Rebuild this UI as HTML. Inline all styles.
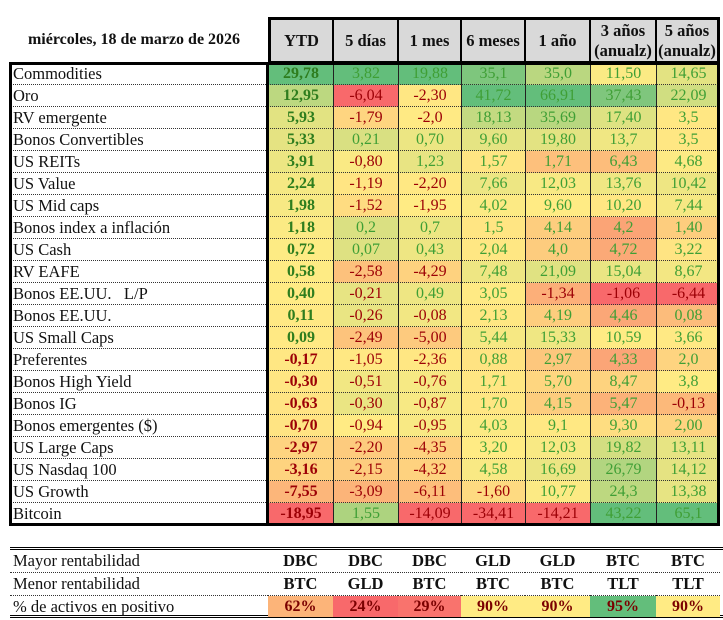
<!DOCTYPE html>
<html><head><meta charset="utf-8">
<style>
body{margin:0;width:723px;height:620px;background:#fff;position:relative;overflow:hidden;font-family:"Liberation Serif",serif;}
.c{position:absolute;box-sizing:border-box;display:flex;align-items:center;justify-content:center;font-size:16px;white-space:nowrap;}
.lbl{justify-content:flex-start;padding-left:3px;font-size:16.5px;color:#111;}
.hd{background:#d9d9d9;font-weight:bold;color:#111;text-align:center;line-height:20px;font-size:16.5px;}
</style></head>
<body>
<div class="c hd" style="left:0;top:17px;width:268px;height:46px;background:none;font-size:16px;">miércoles, 18 de marzo de 2026</div>
<div id="main"></div>
<div id="bottom"></div>
<script>
const headers=["YTD","5 días","1 mes","6 meses","1 año","3 años<br>(anualz)","5 años<br>(anualz)"];
const assets=["Commodities","Oro","RV emergente","Bonos Convertibles","US REITs","US Value","US Mid caps","Bonos index a inflación","US Cash","RV EAFE","Bonos EE.UU.&nbsp;&nbsp; L/P","Bonos EE.UU.","US Small Caps","Preferentes","Bonos High Yield","Bonos IG","Bonos emergentes ($)","US Large Caps","US Nasdaq 100","US Growth","Bitcoin"];
const ytd=["29,78","12,95","5,93","5,33","3,91","2,24","1,98","1,18","0,72","0,58","0,40","0,11","0,09","-0,17","-0,30","-0,63","-0,70","-2,97","-3,16","-7,55","-18,95"];
const d5=["3,82","-6,04","-1,79","0,21","-0,80","-1,19","-1,52","0,2","0,07","-2,58","-0,21","-0,26","-2,49","-1,05","-0,51","-0,30","-0,94","-2,20","-2,15","-3,09","1,55"];
const m1=["19,88","-2,30","-2,0","0,70","1,23","-2,20","-1,95","0,7","0,43","-4,29","0,49","-0,08","-5,00","-2,36","-0,76","-0,87","-0,95","-4,35","-4,32","-6,11","-14,09"];
const m6=["35,1","41,72","18,13","9,60","1,57","7,66","4,02","1,5","2,04","7,48","3,05","2,13","5,44","0,88","1,71","1,70","4,03","3,20","4,58","-1,60","-34,41"];
const y1=["35,0","66,91","35,69","19,80","1,71","12,03","9,60","4,14","4,0","21,09","-1,34","4,19","15,33","2,97","5,70","4,15","9,1","12,03","16,69","10,77","-14,21"];
const y3=["11,50","37,43","17,40","13,7","6,43","13,76","10,20","4,2","4,72","15,04","-1,06","4,46","10,59","4,33","8,47","5,47","9,30","19,82","26,79","24,3","43,22"];
const y5=["14,65","22,09","3,5","3,5","4,68","10,42","7,44","1,40","3,22","8,67","-6,44","0,08","3,66","2,0","3,8","-0,13","2,00","13,11","14,12","13,38","65,1"];
const cols=[ytd,d5,m1,m6,y1,y3,y5];
const sumLabels=["Mayor rentabilidad","Menor rentabilidad","% de activos en positivo"];
const best=["DBC","DBC","DBC","GLD","GLD","BTC","BTC"];
const worst=["BTC","GLD","BTC","BTC","BTC","TLT","TLT"];
const pos=[62,24,29,90,90,95,90];

const colX=[268,333,398,461,525,590,656,720];
const top0=63,rh=22;
const R=[248,105,107],Y=[255,235,132],G=[99,190,123];
function mix(a,b,t){return 'rgb('+a.map((v,i)=>Math.round(v+(b[i]-v)*t)).join(',')+')';}
function scale(vals){const s=[...vals].sort((a,b)=>a-b);const mn=s[0],mx=s[s.length-1];const md=s.length%2?s[(s.length-1)/2]:(s[s.length/2-1]+s[s.length/2])/2;
 return v=>v<=md?mix(R,Y,md===mn?1:(v-mn)/(md-mn)):mix(Y,G,mx===md?0:(v-md)/(mx-md));}
const num=s=>parseFloat(s.replace(',','.'));
const main=document.getElementById('main');
function cell(parent,x,y,w,h,html,cls,st){const d=document.createElement('div');d.className='c '+(cls||'');d.style.cssText=`left:${x}px;top:${y}px;width:${w}px;height:${h}px;`+(st||'');d.innerHTML=html;parent.appendChild(d);return d;}
headers.forEach((h,i)=>{const d=cell(main,colX[i],17,colX[i+1]-colX[i],46,h,'hd','border:2px solid #000;border-left-width:'+(i?1:3)+'px;border-right-width:'+(i==6?3:1)+'px;border-top-width:3px;');

});
assets.forEach((a,r)=>{const y=top0+r*rh;
 const d=cell(main,10,y,258,rh,a,'lbl','border-bottom:1px dotted #333;');
 
 });
cols.forEach((col,ci)=>{const sc=scale(col.map(num));
 col.forEach((v,r)=>{const n=num(v);const y=top0+r*rh;
  const bold=ci===0;
  const color=n<0?'#9c0006':(bold?'#2e7d1e':'#3f9f35');
  const d=cell(main,colX[ci],y,colX[ci+1]-colX[ci],rh,v,'',`background:${sc(n)};color:${color};${bold?'font-weight:bold;':''}border-bottom:1px dotted #333;border-left:1px solid #222;`);
  
  });});
const ob=document.createElement('div');ob.style.cssText=`position:absolute;left:9px;top:62px;width:${720-9}px;height:${rh*21+2}px;border:3px solid #000;box-sizing:border-box;pointer-events:none;`;


main.appendChild(ob);
const sep=document.createElement('div');sep.style.cssText=`position:absolute;left:266px;top:62px;width:3px;height:${rh*21+2}px;background:#000;`;


main.appendChild(sep);
const bt=document.getElementById('bottom');
const bl=document.createElement('div');bl.style.cssText='position:absolute;left:10px;top:547px;width:713px;height:71px;border-top:3px double #000;border-bottom:3px double #000;box-sizing:border-box;';


bt.appendChild(bl);
const bY=[550,573,596],bH=[23,23,21];
const psc=scale(pos);
sumLabels.forEach((l,r)=>{const d=cell(bt,10,bY[r],258,bH[r],l,'lbl',r<2?'border-bottom:1px dotted #333;':'');
 
 });
[best,worst].forEach((arr,r)=>arr.forEach((t,ci)=>{const d=cell(bt,colX[ci],bY[r],colX[ci+1]-colX[ci],bH[r],t,'','font-weight:bold;color:#111;font-size:16.5px;border-bottom:1px dotted #333;');
 
 }));
pos.forEach((p,ci)=>{const d=cell(bt,colX[ci],bY[2],colX[ci+1]-colX[ci],bH[2],p+'%','',`font-weight:bold;color:#7a0000;background:${psc(p)};`);
 
 });
</script>
</body></html>
